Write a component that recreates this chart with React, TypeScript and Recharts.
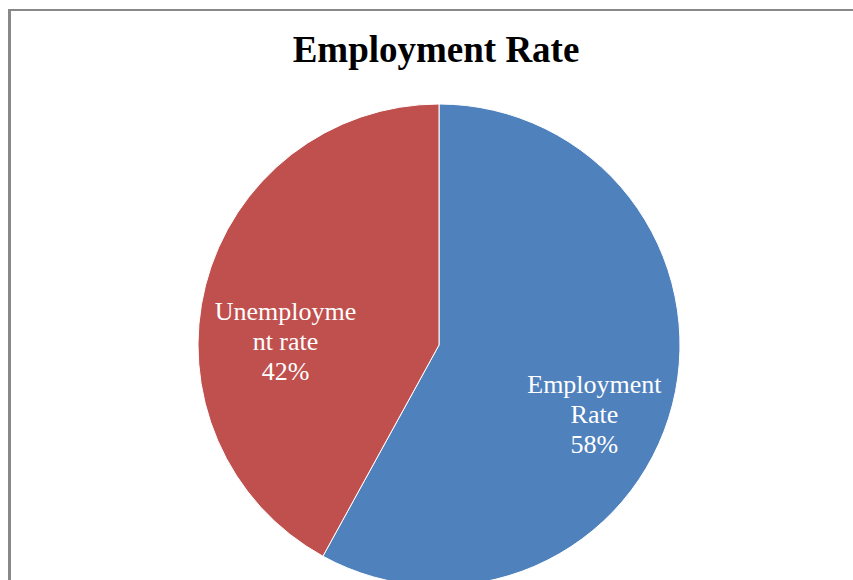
import { PieChart, Pie, Cell } from 'recharts'

const categories = ['Employment Rate', 'Unemployment rate']
const shares = [58, 42]
const labelLines = [
  ['Employment', 'Rate', '58%'],
  ['Unemployme', 'nt rate', '42%'],
]
const colors = ['#4F81BD', '#C0504D']

// label anchors relative to pie centre, as fraction of radius (Excel best-fit placement)
const labelOffsets = [
  { x: 0.645, y: 0.2 },
  { x: -0.637, y: -0.104 },
]

const data = categories.map((name, i) => ({ name, value: shares[i] }))

const serif = '"Liberation Serif", "Times New Roman", serif'

function SliceLabel(props: any) {
  const { cx, cy, outerRadius, index } = props
  const off = labelOffsets[index]
  const x = cx + off.x * outerRadius
  const y = cy + off.y * outerRadius
  return (
    <text x={x} y={y} textAnchor="middle" fill="#fff" fontSize={26} fontFamily={serif}>
      {labelLines[index].map((line, i) => (
        <tspan key={i} x={x} dy={i === 0 ? 0 : 30}>
          {line}
        </tspan>
      ))}
    </text>
  )
}

export default function App() {
  return (
    <div style={{ position: 'fixed', left: 0, top: 0, width: 853, height: 580, overflow: 'hidden', background: '#fff' }}>
      <div
        style={{
          position: 'absolute',
          left: 8,
          top: 9,
          width: 900,
          height: 640,
          borderLeft: '3px solid #888',
          borderTop: '2px solid #888',
        }}
      />
      <PieChart
        width={853}
        height={580}
        margin={{ top: 0, right: 0, bottom: 0, left: 0 }}
        style={{ position: 'absolute', left: 0, top: 0 }}
      >
        <text x={436} y={62} textAnchor="middle" fontSize={37} fontWeight="bold" fontFamily={serif} fill="#000">
          Employment Rate
        </text>
        <Pie
          data={data}
          dataKey="value"
          nameKey="name"
          cx={439}
          cy={345}
          outerRadius={241}
          startAngle={90}
          endAngle={-270}
          stroke="#fff"
          strokeWidth={1}
          label={SliceLabel}
          labelLine={false}
          isAnimationActive={false}
        >
          {data.map((d, i) => (
            <Cell key={d.name} fill={colors[i]} />
          ))}
        </Pie>
      </PieChart>
    </div>
  )
}
